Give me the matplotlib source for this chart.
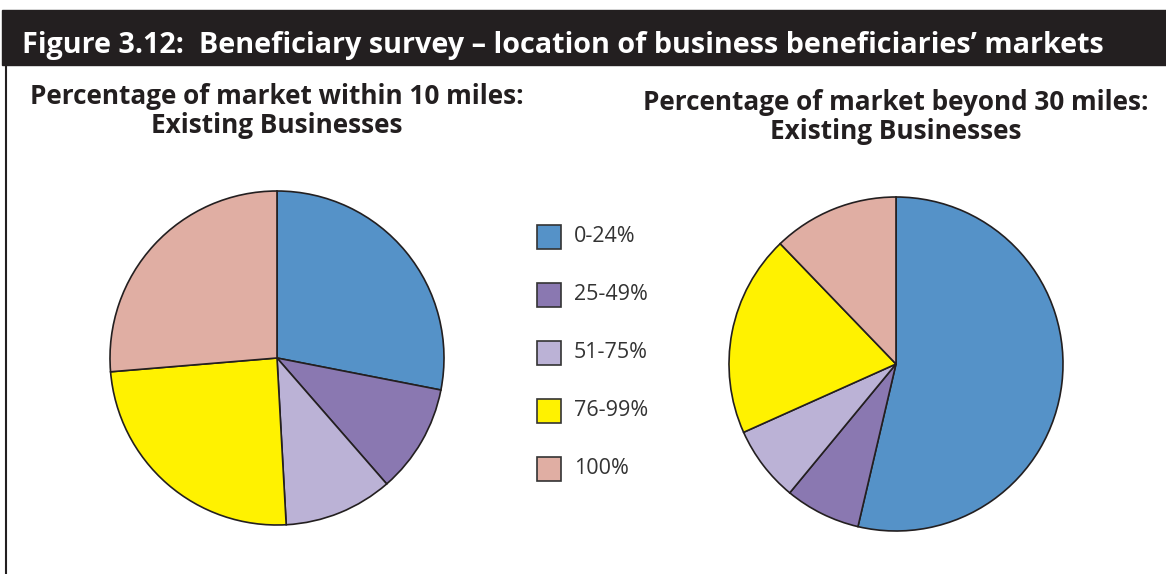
import matplotlib.pyplot as plt
from matplotlib.patches import Rectangle

W, H = 1166, 574

categories = ["0-24%", "25-49%", "51-75%", "76-99%", "100%"]
colors = ["#5592c8", "#8a78b1", "#bbb2d6", "#fff200", "#e0aea3"]
within_10 = [16, 6, 6, 14, 15]
beyond_30 = [22, 3, 3, 8, 5]

title = "Figure 3.12:  Beneficiary survey \u2013 location of business beneficiaries\u2019 markets"
left_title = ["Percentage of market within 10 miles:", "Existing Businesses"]
right_title = ["Percentage of market beyond 30 miles:", "Existing Businesses"]

fig = plt.figure(figsize=(W / 100, H / 100), dpi=100)


def px_axes(cx, cy, r):
    """axes square centred on pixel (cx, cy) measured from top"""
    return fig.add_axes([(cx - r) / W, (H - cy - r) / H, 2 * r / W, 2 * r / H])


def draw_pie(ax, values):
    ax.pie(values, colors=colors, startangle=90, counterclock=False,
           wedgeprops=dict(edgecolor="#231f20", linewidth=1.2))
    ax.set_xlim(-1, 1)
    ax.set_ylim(-1, 1)
    ax.axis("off")


# title bar and frame
fig.patches.append(Rectangle((2 / W, (H - 65) / H), 1, 55 / H,
                             transform=fig.transFigure, color="#231f20"))
fig.lines.append(plt.Line2D([6 / W, 6 / W], [0, (H - 65) / H],
                            transform=fig.transFigure, color="#231f20", lw=1.5))
fig.text(22 / W, 1 - 53 / H, title, color="white", fontsize=20.7, fontweight="bold",
         family="Open Sans", va="baseline", ha="left")

draw_pie(px_axes(277, 358, 167), within_10)
draw_pie(px_axes(896, 364, 167), beyond_30)

title_font = dict(fontsize=18.8, fontweight="bold", family="Open Sans",
                  color="#231f20", ha="center", va="baseline")
for line, yb in zip(left_title, [104, 133]):
    fig.text(277 / W, 1 - yb / H, line, **title_font)
for line, yb in zip(right_title, [110, 139]):
    fig.text(896 / W, 1 - yb / H, line, **title_font)

# legend
for i, (lab, c) in enumerate(zip(categories, colors)):
    y = 237 + i * 58
    fig.patches.append(Rectangle((537 / W, (H - y - 12) / H), 24 / W, 24 / H,
                                 transform=fig.transFigure, facecolor=c,
                                 edgecolor="#333333", lw=1.2))
    fig.text(574 / W, 1 - y / H, lab, fontsize=15.5, family="Open Sans",
             color="#333333", va="center", ha="left")

fig.savefig("out.png", dpi=100)
